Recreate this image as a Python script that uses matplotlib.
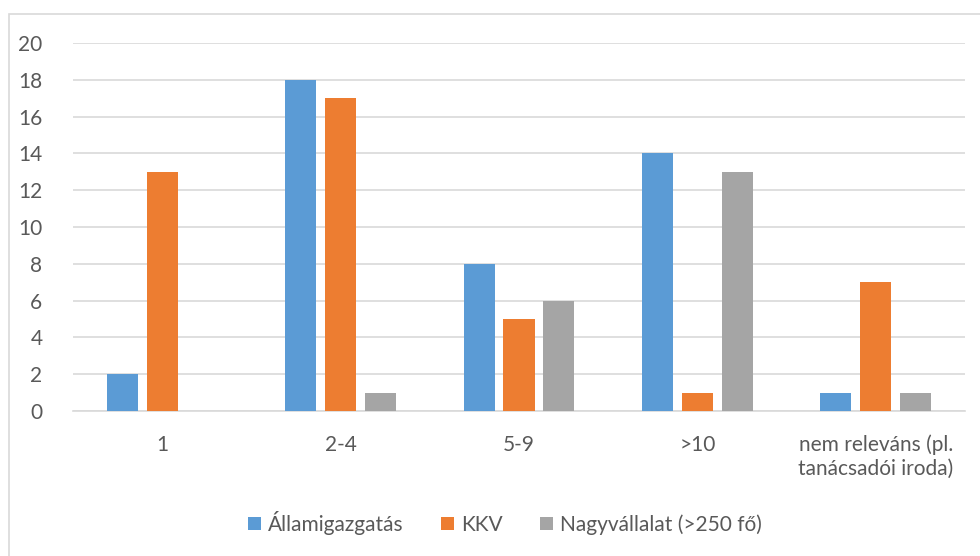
import matplotlib
matplotlib.use("Agg")
import matplotlib.pyplot as plt
import matplotlib.patches as patches
import numpy as np

# categories and series
categories = ["1", "2-4", "5-9", ">10", "nem releváns (pl.\ntanácsadói iroda)"]
allamigazgatas = [2, 18, 8, 14, 1]
kkv = [13, 17, 5, 1, 7]
nagyvallalat = [0, 1, 6, 13, 1]
series_names = ["Államigazgatás", "KKV", "Nagyvállalat (>250 fő)"]
colors = ["#5B9BD5", "#ED7D31", "#A5A5A5"]

plt.rcParams['font.family'] = ['Lato', 'DejaVu Sans']
text_color = "#595959"
fs = 15

fig = plt.figure(figsize=(9.8, 5.56), dpi=100)
ax = fig.add_axes([73/980, 1-411/556, (965-73)/980, (411-43)/556])

# chart frame
fig.patches.append(patches.Rectangle((9/980, -0.1), 1.1, 1.1 - 14/556,
                                     transform=fig.transFigure, fill=False,
                                     edgecolor="#d9d9d9", linewidth=1.2))

x = np.arange(len(categories))
width = 0.174
offset = 0.224
for i, (vals, name, col) in enumerate(zip([allamigazgatas, kkv, nagyvallalat], series_names, colors)):
    ax.bar(x + (i - 1) * offset, vals, width, color=col, label=name, zorder=3)

ax.set_xlim(-0.5, len(categories) - 0.5)
ax.set_ylim(0, 20)
ax.set_yticks(range(0, 21, 2))
ax.set_xticks(x)
ax.set_xticklabels(categories, linespacing=1.2)
ax.grid(axis='y', color="#d9d9d9", linewidth=1.2, zorder=0)
for s in ['top', 'right', 'left']:
    ax.spines[s].set_visible(False)
ax.spines['bottom'].set_color("#d9d9d9")
ax.spines['bottom'].set_linewidth(1.2)
ax.tick_params(axis='both', length=0, labelsize=fs, colors=text_color)
ax.tick_params(axis='x', pad=17)
ax.tick_params(axis='y', pad=22)

fig.legend(loc='center', bbox_to_anchor=(505/980, 1-523/556), ncol=3, frameon=False,
           fontsize=fs, labelcolor=text_color, handlelength=0.6, handleheight=0.6,
           handletextpad=0.35, columnspacing=1.8)

plt.savefig('out.png', dpi=100)
